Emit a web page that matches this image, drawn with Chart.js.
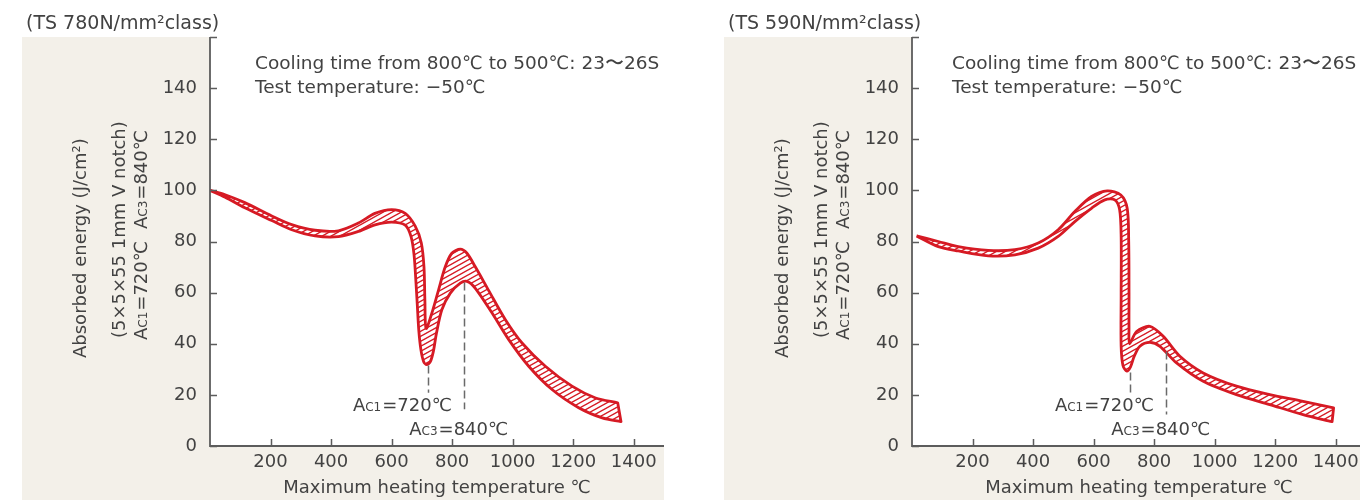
<!DOCTYPE html>
<html>
<head>
<meta charset="utf-8">
<script src="https://cdn.jsdelivr.net/npm/chart.js@4/dist/chart.umd.min.js"></script>
<style>
  html, body { margin: 0; padding: 0; background: #fff; overflow: hidden; }
  #wrap { position: relative; width: 1360px; height: 500px; overflow: hidden; }
  .panel { position: absolute; top: 0; width: 702px; height: 500px; }
  .panel canvas { display: block; }
</style>
</head>
<body>
<div id="wrap">
  <div class="panel" style="left:0"><canvas id="c780" width="702" height="500" style="width:702px;height:500px"></canvas></div>
  <div class="panel" style="left:702px"><canvas id="c590" width="702" height="500" style="width:702px;height:500px"></canvas></div>
</div>
<script>
// Absorbed energy scatter band, [max heating temperature °C, J/cm²]
const ts780Upper = [[0,100],[50,98.3],[115,95.2],[204,90],[270,86.6],[347,84.4],[424,84.2],[490,87.2],[545,91],[600,92.5],[645,91],[678,86],[698,79.5],[707,70],[710,57],[714,46],[733,52],[755,61],[777,70],[799,75.4],[827,77],[849,75.4],[876,70.2],[920,61],[976,49.4],[1031,40.3],[1108,31.2],[1196,23.4],[1274,18.8],[1347,16.9]];
const ts780Lower = [[0,100],[50,97.3],[115,93.2],[204,88.2],[270,84.6],[347,82.2],[424,81.9],[490,83.9],[545,86.5],[600,87.6],[645,86.4],[664,82],[674,75],[680,65],[685,55],[690,45],[697,37.5],[706,33],[716,31.8],[728,33],[738,37],[748,44],[766,53.3],[794,59.8],[827,63.7],[849,64.4],[876,61.8],[932,52],[987,41.6],[1053,31.2],[1130,22.1],[1218,15],[1296,11],[1358,9.5]];
const ts590Upper = [[15,82.2],[87,80],[153,78],[252,76.5],[340,76.8],[417,79.4],[483,84.6],[538,91.7],[593,97.6],[645,99.8],[690,98.2],[711,93],[716,80],[717,60],[717,46],[719,40],[742,44.8],[786,46.8],[830,42.9],[885,35.1],[962,28.6],[1072,23.4],[1182,20.1],[1292,17.5],[1393,14.9]];
const ts590Lower = [[15,82.2],[87,78],[153,76.3],[252,74.4],[340,74.8],[417,77.4],[483,82],[538,87.8],[593,93],[637,96.3],[670,96.3],[686,92.4],[691,82],[691,58.5],[691,39],[697,31.5],[710,29.3],[722,31],[734,35],[753,39],[786,40.5],[819,39],[874,32.5],[962,25.3],[1072,20.1],[1182,16.2],[1292,12.3],[1388,9.5]];

// Axis ticks
const xTickValues = [200, 400, 600, 800, 1000, 1200, 1400];
const yTickValues = [0, 20, 40, 60, 80, 100, 120, 140];
const yTickMarks = [0, 20, 40, 60, 80, 100, 120, 140, 160];
const xAxisMax = 1500;
const yAxisMax = 160;

// Transformation points: [temperature, guide top J/cm², guide bottom J/cm²]
const ts780Guides = [[720, 31.5, 20.8], [840, 64, 14.4]];
const ts590Guides = [[720, 28.8, 20.8], [840, 37, 12.3]];

const RED = 'rgb(214,26,36)';
const INK = '#424242';
const AXIS = '#5c5c5c';
const BEIGE = '#f3f0e9';
const FONT = '"DejaVu Sans", "Liberation Sans", sans-serif';

function hatchPattern(color) {
  const w = 9, h = 5;
  const c = document.createElement('canvas');
  c.width = w; c.height = h;
  const g = c.getContext('2d');
  g.strokeStyle = color;
  g.lineWidth = 1.4;
  g.beginPath();
  for (const k of [-1, 0, 1]) {
    g.moveTo(-1, h + k * h + h / w);
    g.lineTo(w + 1, k * h - h / w);
  }
  g.stroke();
  return g.createPattern(c, 'repeat');
}

// Closed outline: upper bound left→right, lower bound right→left
function bandOutline(upper, lower) {
  const up = upper.map(([x, y]) => ({x, y}));
  const lo = lower.slice().reverse().map(([x, y]) => ({x, y}));
  return [...up, up[up.length - 1], lo[0], ...lo];
}

function drawAc(ctx, x, y, sub, rest, size) {
  let w = 0;
  ctx.font = `${size}px ${FONT}`;
  ctx.fillText('A', x, y);
  w += ctx.measureText('A').width;
  ctx.font = `${Math.round(size * 0.64)}px ${FONT}`;
  ctx.fillText(sub, x + w, y);
  w += ctx.measureText(sub).width + 1;
  ctx.font = `${size}px ${FONT}`;
  ctx.fillText(rest, x + w, y);
  w += ctx.measureText(rest).width;
  return w;
}

const decor = {
  id: 'decor',
  beforeDraw(chart, args, o) {
    const {ctx, chartArea: a} = chart;
    ctx.save();
    ctx.fillStyle = BEIGE;
    ctx.fillRect(o.panelLeft, a.top, a.right - o.panelLeft, chart.height - a.top);
    ctx.fillStyle = '#fff';
    ctx.fillRect(a.left, a.top, a.right - a.left, a.bottom - a.top);
    ctx.restore();
  },
  afterDatasetsDraw(chart, args, o) {
    const {ctx, chartArea: a, scales: {x, y}} = chart;
    ctx.save();
    // axes
    ctx.strokeStyle = AXIS;
    ctx.lineWidth = 1.8;
    ctx.beginPath();
    ctx.moveTo(a.left, a.top);
    ctx.lineTo(a.left, a.bottom);
    ctx.lineTo(a.right, a.bottom);
    ctx.stroke();
    ctx.lineWidth = 1.5;
    ctx.beginPath();
    for (const v of yTickMarks) {
      const py = Math.round(y.getPixelForValue(v)) + 0.5;
      ctx.moveTo(a.left, py);
      ctx.lineTo(a.left + 7, py);
    }
    for (const v of xTickValues) {
      const px = Math.round(x.getPixelForValue(v)) + 0.5;
      ctx.moveTo(px, a.bottom);
      ctx.lineTo(px, a.bottom - 7);
    }
    ctx.stroke();

    // transformation guides
    ctx.strokeStyle = '#6a6a6a';
    ctx.lineWidth = 1.5;
    ctx.setLineDash([8, 4]);
    ctx.beginPath();
    for (const [t, y0, y1] of o.guides) {
      const px = Math.round(x.getPixelForValue(t)) + 0.5;
      ctx.moveTo(px, y.getPixelForValue(y0));
      ctx.lineTo(px, y.getPixelForValue(y1));
    }
    ctx.stroke();
    ctx.setLineDash([]);

    ctx.fillStyle = INK;
    ctx.textBaseline = 'alphabetic';
    ctx.textAlign = 'left';
    const px1 = x.getPixelForValue(o.guides[0][0]);
    const px3 = x.getPixelForValue(o.guides[1][0]);
    drawAc(ctx, px1 - 75, a.bottom - 35, 'C1', '=720℃', 18);
    drawAc(ctx, px3 - 55, a.bottom - 11, 'C3', '=840℃', 18);

    // notes
    ctx.font = `18.5px ${FONT}`;
    ctx.fillText('Cooling time from 800℃ to 500℃: 23〜26S', o.noteX, 69);
    ctx.fillText('Test temperature: \u221250℃', o.noteX, 93);

    // panel title
    ctx.font = `19px ${FONT}`;
    ctx.fillText(o.title, 26, 29);

    // vertical axis title
    ctx.save();
    ctx.translate(86, 358);
    ctx.rotate(-Math.PI / 2);
    ctx.font = `18px ${FONT}`;
    ctx.fillText('Absorbed energy (J/cm²)', 0, 0);
    ctx.restore();
    ctx.save();
    ctx.translate(125, 338);
    ctx.rotate(-Math.PI / 2);
    ctx.font = `18px ${FONT}`;
    ctx.fillText('(5×5×55 1mm V notch)', 0, 0);
    ctx.restore();
    ctx.save();
    ctx.translate(147, 340);
    ctx.rotate(-Math.PI / 2);
    const w1 = drawAc(ctx, 0, 0, 'C1', '=720℃', 18);
    drawAc(ctx, w1 + 12, 0, 'C3', '=840℃', 18);
    ctx.restore();

    ctx.restore();
  }
};

function makeChart(id, upper, lower, guides, title, noteX) {
  const canvas = document.getElementById(id);
  return new Chart(canvas, {
    type: 'scatter',
    data: {
      datasets: [{
        data: bandOutline(upper, lower),
        showLine: true,
        fill: 'shape',
        backgroundColor: hatchPattern(RED),
        borderColor: RED,
        borderWidth: 2.8,
        borderJoinStyle: 'round',
        tension: 0.3,
        pointRadius: 0,
        pointHoverRadius: 0
      }]
    },
    options: {
      responsive: false,
      animation: false,
      events: [],
      layout: { padding: { left: 22, top: 37, right: 38, bottom: 0 } },
      plugins: {
        legend: { display: false },
        tooltip: { enabled: false },
        decor: { panelLeft: 22, guides, title, noteX }
      },
      scales: {
        x: {
          type: 'linear',
          min: 0,
          max: xAxisMax,
          grid: { display: false, drawTicks: false },
          border: { display: false },
          afterBuildTicks: s => { s.ticks = xTickValues.map(v => ({value: v})); },
          afterFit: s => { s.height = 54; },
          ticks: {
            autoSkip: false,
            maxRotation: 0,
            padding: 6,
            color: INK,
            font: { family: FONT, size: 18 },
            callback: v => String(v)
          },
          title: {
            display: true,
            text: 'Maximum heating temperature ℃',
            color: INK,
            font: { family: FONT, size: 18 },
            padding: { top: 0, bottom: 1 }
          }
        },
        y: {
          type: 'linear',
          min: 0,
          max: yAxisMax,
          grid: { display: false, drawTicks: false },
          border: { display: false },
          afterBuildTicks: s => { s.ticks = yTickValues.map(v => ({value: v})); },
          afterFit: s => { s.width = 188; },
          ticks: {
            autoSkip: false,
            padding: 13,
            color: INK,
            font: { family: FONT, size: 18 },
            callback: v => String(v)
          }
        }
      }
    },
    plugins: [decor]
  });
}

makeChart('c780', ts780Upper, ts780Lower, ts780Guides, '(TS 780N/mm²class)', 255);
makeChart('c590', ts590Upper, ts590Lower, ts590Guides, '(TS 590N/mm²class)', 250);
</script>
</body>
</html>
